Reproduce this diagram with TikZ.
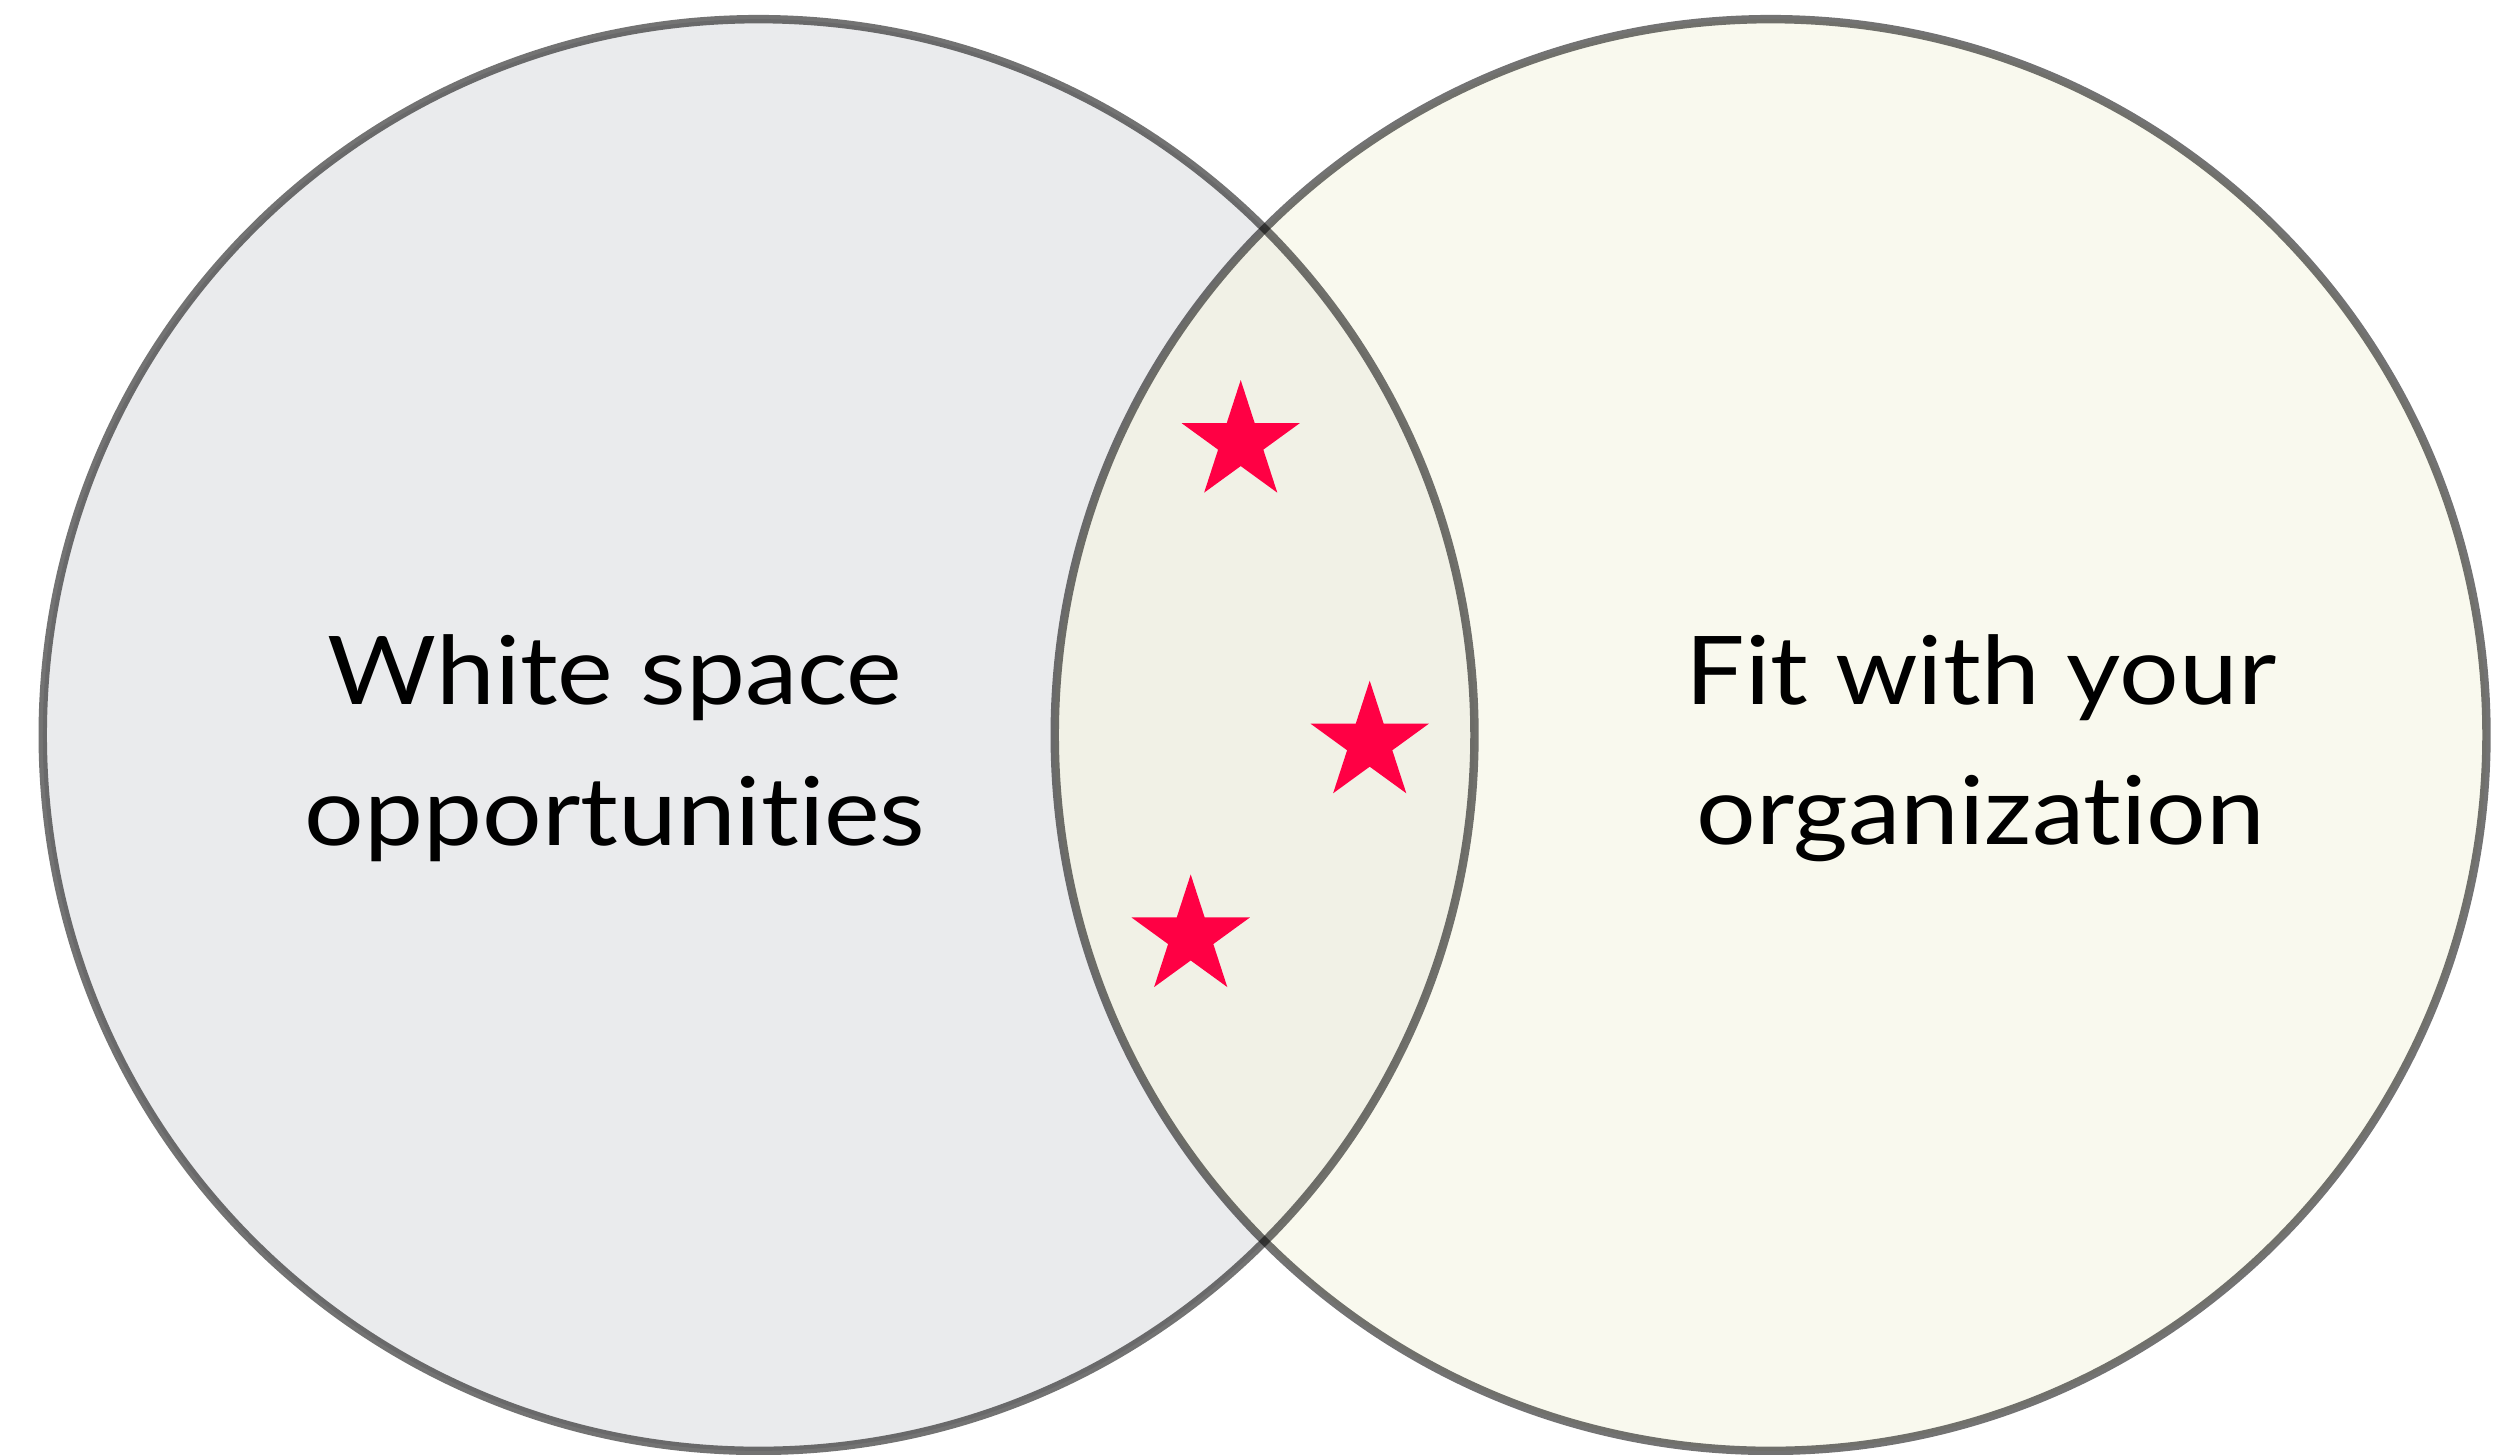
\documentclass[tikz,border=0pt]{standalone}
\usepackage{fontspec}
\setmainfont{Lato}[Ligatures=CommonOff, FakeStretch=1.11]
\usetikzlibrary{shapes.geometric}

\definecolor{leftfill}{HTML}{EAEBED}
\definecolor{rightfill}{HTML}{F9F9EE}
\definecolor{bothfill}{HTML}{F1F1E6}
\definecolor{starred}{HTML}{FF0044}

\begin{document}
\begin{tikzpicture}[x=0.02cm, y=-0.02cm,
    ring/.style={draw=black, draw opacity=0.55, line width=4.8pt},
    setlabel/.style={align=center, font=\fontsize{54}{80}\selectfont, text=black, inner sep=0pt},
    redstar/.style={star, star points=5, star point ratio=2.618, fill=starred, draw=none, minimum size=2.49cm, inner sep=0pt, outer sep=0pt}]
    \useasboundingbox (0,0) rectangle (2515,1454);

    % the two sets
    \fill[leftfill] (758.6,735) circle (14.32cm);
    \fill[rightfill] (1770.6,735) circle (14.32cm);
    \begin{scope}
        \clip (758.6,735) circle (14.32cm);
        \fill[bothfill] (1770.6,735) circle (14.32cm);
    \end{scope}
    \path[ring] (758.6,735) circle (14.32cm);
    \path[ring] (1770.6,735) circle (14.32cm);

    \node[setlabel] (white) at (615,748) {White space\\opportunities};
    \node[setlabel] (fit) at (1981,748) {Fit with your\\organization};

    % stars in the overlap
    \node[redstar] (star1) at (1240.7,442.3) {};
    \node[redstar] (star2) at (1369.7,742.9) {};
    \node[redstar] (star3) at (1190.7,936.7) {};
\end{tikzpicture}
\end{document}
